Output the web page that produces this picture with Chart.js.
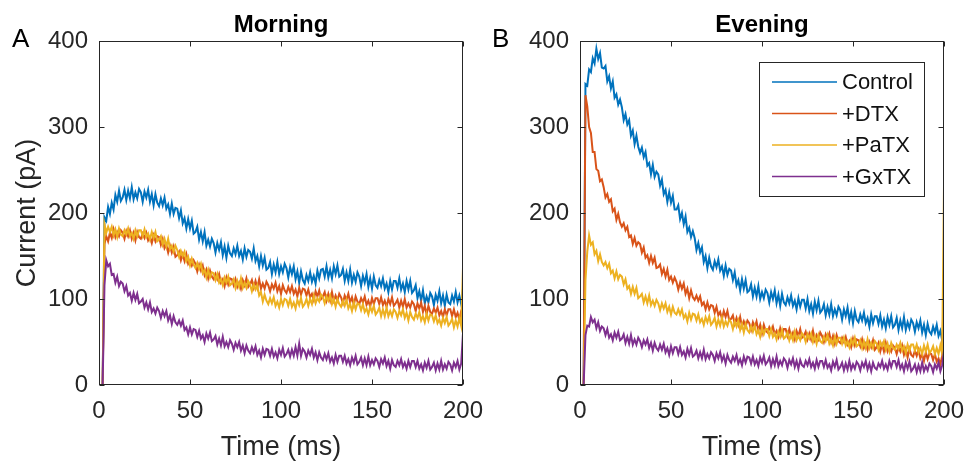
<!DOCTYPE html>
<html>
<head>
<meta charset="utf-8">
<script src="https://cdn.jsdelivr.net/npm/chart.js@4.4.0/dist/chart.umd.min.js"></script>
<style>
  body { margin: 0; background: #fff; }
  #wrap { position: relative; width: 967px; height: 461px; }
  .panel { position: absolute; top: 0; }
  #panelA { left: 0; }
  #panelB { left: 480px; }
</style>
</head>
<body>
<div id="wrap">
  <div class="panel" id="panelA"><canvas id="chartA" width="492" height="461"></canvas></div>
  <div class="panel" id="panelB"><canvas id="chartB" width="487" height="461"></canvas></div>
</div>
<script>
// sample times (ms), shared by every trace
const timeMs = [0, 2,
  3, 4, 5, 6, 7, 8, 9, 10, 11, 12,
  13, 14, 15, 16, 17, 18, 19, 20, 21, 22,
  23, 24, 25, 26, 27, 28, 29, 30, 31, 32,
  33, 34, 35, 36, 37, 38, 39, 40, 41, 42,
  43, 44, 45, 46, 47, 48, 49, 50, 51, 52,
  53, 54, 55, 56, 57, 58, 59, 60, 61, 62,
  63, 64, 65, 66, 67, 68, 69, 70, 71, 72,
  73, 74, 75, 76, 77, 78, 79, 80, 81, 82,
  83, 84, 85, 86, 87, 88, 89, 90, 91, 92,
  93, 94, 95, 96, 97, 98, 99, 100, 101, 102,
  103, 104, 105, 106, 107, 108, 109, 110, 111, 112,
  113, 114, 115, 116, 117, 118, 119, 120, 121, 122,
  123, 124, 125, 126, 127, 128, 129, 130, 131, 132,
  133, 134, 135, 136, 137, 138, 139, 140, 141, 142,
  143, 144, 145, 146, 147, 148, 149, 150, 151, 152,
  153, 154, 155, 156, 157, 158, 159, 160, 161, 162,
  163, 164, 165, 166, 167, 168, 169, 170, 171, 172,
  173, 174, 175, 176, 177, 178, 179, 180, 181, 182,
  183, 184, 185, 186, 187, 188, 189, 190, 191, 192,
  193, 194, 195, 196, 197, 198, 199,
  200, 200];

const seriesNames = ['Control', '+DTX', '+PaTX', '+GxTX'];
const seriesColors = ['#0072BD', '#D95319', '#EDB120', '#7E2F8E'];
const xTicks = [0, 50, 100, 150, 200];
const yTicks = [0, 100, 200, 300, 400];

// Morning (A), current in pA
const morningControl = [0, 0,
  195, 191, 207, 199, 212, 204, 221, 213, 226, 214,
  218, 227, 215, 226, 217, 230, 216, 224, 217, 228,
  224, 213, 225, 218, 227, 213, 222, 209, 222, 212,
  208, 217, 209, 218, 205, 210, 199, 211, 199, 206,
  205, 194, 203, 188, 194, 182, 193, 182, 191, 176,
  178, 184, 169, 178, 167, 178, 162, 169, 161, 170,
  165, 154, 165, 157, 166, 151, 161, 148, 162, 153,
  150, 159, 152, 162, 150, 156, 146, 159, 149, 157,
  155, 147, 159, 144, 150, 138, 150, 139, 148, 134,
  136, 143, 129, 140, 131, 143, 129, 138, 131, 141,
  136, 125, 137, 129, 138, 123, 132, 119, 132, 122,
  118, 128, 121, 131, 120, 127, 118, 133, 124, 134,
  135, 126, 138, 125, 134, 124, 138, 129, 139, 126,
  128, 135, 121, 131, 121, 134, 119, 128, 120, 131,
  126, 115, 127, 119, 129, 114, 124, 112, 126, 116,
  113, 122, 115, 124, 112, 118, 108, 121, 111, 121,
  121, 113, 124, 111, 118, 108, 121, 111, 121, 107,
  110, 116, 101, 109, 98, 110, 95, 103, 96, 107,
  103, 93, 105, 98, 109, 95, 104, 92, 105, 96,
  94, 104, 97, 108, 96, 104, 94,
  112, 112];
const morningDTX = [0, 0,
  164, 173, 167, 177, 171, 181, 172, 178, 173, 180,
  177, 170, 179, 173, 180, 170, 177, 168, 178, 172,
  170, 176, 171, 177, 168, 172, 165, 174, 167, 173,
  172, 163, 170, 159, 163, 154, 162, 154, 161, 149,
  151, 155, 145, 152, 144, 152, 141, 145, 139, 145,
  141, 132, 140, 133, 139, 128, 134, 124, 133, 126,
  123, 129, 123, 129, 119, 123, 115, 125, 117, 124,
  123, 116, 123, 114, 119, 112, 122, 116, 124, 114,
  117, 122, 113, 121, 113, 123, 112, 118, 112, 120,
  116, 109, 117, 112, 119, 109, 115, 106, 116, 110,
  107, 114, 108, 115, 106, 111, 103, 113, 105, 112,
  111, 104, 111, 102, 106, 99, 109, 103, 110, 100,
  103, 108, 98, 106, 98, 108, 98, 104, 98, 106,
  102, 95, 104, 99, 106, 96, 102, 93, 103, 97,
  94, 101, 96, 103, 93, 98, 91, 101, 94, 101,
  101, 94, 102, 93, 98, 91, 100, 94, 102, 92,
  95, 99, 90, 98, 91, 100, 90, 95, 90, 97,
  94, 86, 95, 89, 96, 85, 92, 82, 92, 85,
  83, 89, 84, 90, 81, 86, 79, 88, 81, 88,
  88, 80, 88, 79, 84, 76, 86,
  92, 92];
const morningPaTX = [0, 0,
  187, 177, 184, 178, 184, 174, 181, 172, 182, 175,
  173, 180, 175, 182, 173, 177, 170, 180, 173, 180,
  180, 173, 181, 172, 176, 169, 178, 171, 178, 167,
  169, 173, 163, 170, 161, 170, 158, 162, 155, 162,
  157, 149, 156, 150, 155, 144, 149, 139, 147, 140,
  136, 142, 135, 141, 130, 134, 125, 134, 125, 131,
  130, 122, 129, 119, 123, 116, 125, 119, 126, 116,
  118, 123, 113, 121, 114, 124, 113, 119, 113, 121,
  117, 109, 117, 111, 116, 104, 108, 97, 105, 98,
  94, 101, 95, 102, 92, 97, 90, 100, 93, 100,
  99, 92, 100, 91, 96, 89, 99, 93, 101, 91,
  94, 100, 92, 100, 94, 104, 95, 101, 97, 105,
  102, 95, 103, 98, 104, 94, 100, 91, 100, 94,
  91, 98, 92, 99, 89, 94, 86, 96, 88, 95,
  94, 87, 94, 85, 89, 82, 91, 85, 92, 82,
  85, 90, 80, 88, 80, 90, 80, 86, 80, 88,
  85, 78, 86, 81, 88, 78, 84, 75, 85, 79,
  76, 83, 78, 85, 75, 80, 73, 83, 75, 82,
  81, 74, 81, 72, 76, 69, 78, 72, 79, 69,
  72, 77, 67, 75, 68, 78, 69,
  137, 137];
const morningGxTX = [0, 0,
  116, 145, 138, 141, 128, 129, 119, 126, 115, 120,
  118, 109, 115, 104, 107, 98, 107, 99, 106, 95,
  97, 100, 90, 96, 88, 96, 85, 89, 83, 90,
  86, 78, 86, 80, 86, 75, 81, 71, 80, 73,
  70, 75, 69, 75, 64, 67, 59, 67, 59, 65,
  64, 56, 63, 54, 58, 50, 60, 54, 61, 51,
  53, 57, 47, 54, 46, 56, 45, 50, 44, 52,
  48, 41, 49, 44, 50, 40, 46, 37, 46, 40,
  37, 44, 38, 45, 35, 40, 32, 42, 35, 42,
  41, 34, 42, 33, 38, 31, 41, 35, 43, 33,
  36, 41, 33, 41, 34, 44, 34, 48, 34, 42,
  39, 32, 40, 35, 42, 32, 38, 29, 38, 32,
  29, 36, 30, 37, 27, 32, 25, 35, 27, 34,
  34, 27, 34, 25, 30, 23, 32, 26, 34, 24,
  27, 32, 23, 31, 23, 33, 23, 29, 24, 31,
  28, 21, 30, 25, 32, 22, 28, 19, 29, 23,
  21, 28, 23, 30, 21, 26, 19, 28, 21, 28,
  28, 21, 28, 19, 24, 17, 26, 20, 28, 18,
  21, 26, 17, 25, 18, 28, 18, 24, 19, 27,
  24, 17, 26, 21, 28, 18, 25,
  60, 60];

// Evening (B), current in pA
const eveningControl = [0, 0,
  350, 348, 367, 364, 380, 374, 391, 379, 386, 369,
  368, 371, 353, 359, 345, 353, 334, 338, 326, 332,
  323, 308, 315, 303, 308, 290, 296, 280, 290, 277,
  270, 276, 265, 271, 255, 258, 245, 256, 242, 248,
  245, 232, 239, 222, 227, 213, 224, 212, 220, 204,
  204, 209, 193, 200, 187, 196, 178, 183, 172, 179,
  171, 157, 165, 154, 160, 143, 150, 136, 148, 138,
  134, 144, 137, 146, 133, 138, 127, 139, 128, 135,
  133, 122, 131, 116, 122, 110, 123, 112, 122, 108,
  110, 117, 103, 113, 103, 115, 100, 108, 101, 111,
  107, 96, 108, 100, 110, 95, 105, 92, 106, 96,
  93, 102, 95, 104, 92, 98, 88, 101, 91, 99,
  99, 89, 100, 86, 94, 83, 97, 87, 98, 84,
  87, 94, 81, 91, 82, 94, 80, 88, 81, 91,
  87, 76, 88, 80, 90, 75, 85, 72, 86, 76,
  73, 82, 75, 84, 72, 78, 68, 82, 72, 80,
  80, 71, 81, 68, 76, 66, 79, 70, 80, 67,
  70, 78, 64, 75, 66, 79, 64, 73, 66, 76,
  72, 62, 73, 66, 75, 61, 70, 58, 71, 62,
  59, 68, 61, 70, 57, 63, 52,
  70, 0];
const eveningDTX = [0, 0,
  337, 324, 300, 293, 271, 271, 251, 249, 237, 239,
  230, 218, 222, 213, 216, 202, 205, 192, 199, 189,
  184, 188, 180, 184, 172, 174, 164, 171, 162, 166,
  164, 154, 160, 148, 151, 142, 150, 142, 148, 136,
  137, 140, 129, 135, 126, 134, 122, 126, 119, 125,
  120, 111, 119, 112, 118, 106, 112, 101, 110, 102,
  99, 104, 98, 103, 93, 96, 88, 96, 88, 93,
  92, 84, 91, 81, 85, 77, 86, 79, 86, 75,
  77, 81, 71, 78, 70, 79, 68, 74, 68, 75,
  72, 64, 73, 67, 74, 63, 70, 60, 70, 63,
  61, 67, 62, 68, 59, 63, 56, 66, 58, 65,
  65, 57, 65, 56, 61, 53, 63, 57, 65, 55,
  57, 62, 53, 60, 53, 63, 52, 58, 53, 61,
  57, 50, 59, 54, 60, 50, 57, 48, 58, 51,
  49, 55, 50, 56, 47, 51, 44, 54, 46, 53,
  52, 45, 53, 43, 48, 41, 50, 44, 52, 41,
  44, 49, 39, 47, 39, 49, 39, 44, 39, 46,
  43, 36, 44, 39, 46, 35, 42, 32, 42, 35,
  33, 40, 34, 41, 31, 36, 28, 38, 30, 37,
  36, 29, 36, 27, 31, 24, 34,
  130, 0];
const eveningPaTX = [0, 0,
  122, 155, 174, 163, 166, 152, 156, 144, 152, 143,
  139, 143, 136, 141, 130, 133, 124, 132, 123, 128,
  126, 117, 123, 112, 115, 106, 114, 106, 113, 101,
  103, 106, 96, 103, 95, 104, 93, 98, 92, 99,
  95, 87, 95, 89, 95, 85, 91, 82, 91, 84,
  82, 88, 82, 88, 78, 82, 74, 84, 76, 83,
  82, 75, 82, 73, 77, 70, 79, 73, 80, 70,
  73, 78, 68, 76, 69, 78, 68, 74, 69, 76,
  73, 65, 74, 68, 75, 64, 71, 61, 71, 64,
  61, 68, 62, 69, 59, 64, 56, 66, 59, 65,
  65, 57, 65, 56, 60, 53, 62, 56, 64, 54,
  56, 61, 52, 59, 52, 62, 52, 57, 52, 60,
  57, 50, 59, 54, 60, 50, 57, 48, 58, 51,
  49, 56, 51, 58, 48, 53, 46, 56, 48, 55,
  55, 48, 55, 46, 51, 44, 53, 47, 55, 45,
  47, 52, 43, 51, 43, 53, 43, 49, 43, 51,
  48, 41, 50, 45, 51, 41, 48, 39, 49, 43,
  41, 47, 42, 49, 40, 45, 37, 47, 40, 47,
  47, 40, 47, 38, 43, 36, 46, 39, 47, 37,
  40, 45, 36, 43, 36, 46, 36,
  232, 0];
const eveningGxTX = [0, 0,
  58, 69, 68, 79, 73, 76, 66, 73, 63, 68,
  66, 58, 65, 55, 59, 52, 61, 55, 62, 52,
  54, 59, 49, 56, 48, 58, 47, 53, 47, 55,
  51, 44, 52, 47, 53, 43, 49, 40, 49, 43,
  40, 47, 41, 48, 38, 43, 35, 45, 37, 44,
  44, 36, 44, 35, 39, 32, 42, 35, 43, 33,
  35, 40, 31, 38, 31, 41, 30, 36, 31, 38,
  35, 28, 37, 31, 38, 28, 34, 25, 35, 29,
  26, 33, 28, 35, 25, 30, 23, 33, 26, 33,
  32, 25, 33, 24, 29, 22, 32, 26, 34, 24,
  27, 32, 22, 30, 23, 33, 22, 28, 23, 31,
  28, 20, 29, 24, 31, 21, 28, 19, 29, 23,
  21, 28, 23, 30, 21, 26, 19, 29, 21, 28,
  28, 21, 29, 20, 24, 17, 27, 21, 29, 18,
  21, 26, 17, 25, 18, 28, 18, 24, 19, 27,
  24, 17, 26, 21, 28, 18, 25, 16, 26, 20,
  18, 25, 21, 28, 19, 24, 18, 28, 21, 28,
  28, 21, 29, 19, 24, 16, 26, 19, 27, 16,
  19, 24, 15, 23, 16, 26, 16, 22, 17, 25,
  22, 15, 24, 19, 26, 16, 23,
  40, 0];

const FONT = '"Liberation Sans", Arial, Helvetica, sans-serif';
const INK = '#262626';

// MATLAB style box, inside ticks, title, panel letter and legend
const matlabAxes = {
  id: 'matlabAxes',
  afterDraw(chart, args, opts) {
    const { ctx, chartArea: a, scales: { x, y } } = chart;
    ctx.save();
    ctx.strokeStyle = INK;
    ctx.lineWidth = 1;
    const L = Math.round(a.left) + 0.5, R = Math.round(a.right) - 0.5;
    const T = Math.round(a.top) + 0.5, B = Math.round(a.bottom) - 0.5;
    ctx.strokeRect(L, T, R - L, B - T);
    ctx.beginPath();
    x.ticks.forEach(t => {
      const px = Math.round(x.getPixelForValue(t.value)) + 0.5;
      ctx.moveTo(px, B); ctx.lineTo(px, B - 5);
      ctx.moveTo(px, T); ctx.lineTo(px, T + 5);
    });
    y.ticks.forEach(t => {
      const py = Math.round(y.getPixelForValue(t.value)) + 0.5;
      ctx.moveTo(L, py); ctx.lineTo(L + 5, py);
      ctx.moveTo(R, py); ctx.lineTo(R - 5, py);
    });
    ctx.stroke();

    ctx.fillStyle = '#000';
    ctx.textBaseline = 'middle';
    ctx.textAlign = 'center';
    ctx.font = 'bold 24px ' + FONT;
    ctx.fillText(opts.title, (a.left + a.right) / 2, 25);
    ctx.textAlign = 'left';
    ctx.font = '26px ' + FONT;
    ctx.fillText(opts.letter, opts.letterX, 40);

    if (opts.legend) {
      const x0 = a.right - 185, y0 = 62;
      ctx.strokeStyle = INK;
      ctx.lineWidth = 1;
      ctx.fillStyle = '#fff';
      ctx.fillRect(x0, y0, 165, 134);
      ctx.strokeRect(x0 + 0.5, y0 + 0.5, 165, 134);
      ctx.font = '22px ' + FONT;
      chart.data.datasets.forEach((ds, i) => {
        const yy = y0 + 20 + i * 31.5;
        ctx.strokeStyle = ds.borderColor;
        ctx.lineWidth = 1.5;
        ctx.beginPath();
        ctx.moveTo(x0 + 13, yy); ctx.lineTo(x0 + 78, yy);
        ctx.stroke();
        ctx.fillStyle = '#111';
        ctx.fillText(ds.label, x0 + 83, yy + 1);
      });
    }
    ctx.restore();
  }
};

function makeChart(id, traces, opts) {
  const datasets = traces.map((vals, i) => ({
    label: seriesNames[i],
    data: timeMs.map((t, k) => ({ x: t, y: vals[k] })),
    borderColor: seriesColors[i],
    borderWidth: 2,
    pointRadius: 0,
    tension: 0,
    order: traces.length - i
  }));
  return new Chart(document.getElementById(id), {
    type: 'line',
    data: { datasets },
    plugins: [matlabAxes],
    options: {
      responsive: false,
      animation: false,
      layout: { padding: { top: 41, right: opts.padRight, left: 0, bottom: 0 } },
      plugins: {
        legend: { display: false },
        tooltip: { enabled: false },
        matlabAxes: opts
      },
      scales: {
        x: {
          type: 'linear', min: 0, max: 200,
          afterBuildTicks: s => { s.ticks = xTicks.map(v => ({ value: v })); },
          afterFit: s => { s.height = 76; s.paddingLeft = 0; s.paddingRight = 0; },
          grid: { display: false, drawTicks: false },
          border: { display: false },
          ticks: { color: INK, padding: 12, maxRotation: 0, font: { family: FONT, size: 24 } },
          title: { display: true, text: 'Time (ms)', color: INK, padding: { top: 0, bottom: 0 },
            font: { family: FONT, size: 27, lineHeight: 1 } }
        },
        y: {
          type: 'linear', min: 0, max: 400,
          afterBuildTicks: s => { s.ticks = yTicks.map(v => ({ value: v })); },
          afterFit: s => { s.width = opts.yWidth; },
          grid: { display: false, drawTicks: false },
          border: { display: false },
          ticks: { color: INK, padding: 11, font: { family: FONT, size: 24 } },
          title: { display: opts.yTitle, text: 'Current (pA)', color: INK, padding: { top: 14, bottom: 0 },
            font: { family: FONT, size: 27, lineHeight: 1 } }
        }
      }
    }
  });
}

makeChart('chartA', [morningControl, morningDTX, morningPaTX, morningGxTX],
  { title: 'Morning', letter: 'A', letterX: 12, legend: false, padRight: 29, yWidth: 99, yTitle: true });
makeChart('chartB', [eveningControl, eveningDTX, eveningPaTX, eveningGxTX],
  { title: 'Evening', letter: 'B', letterX: 12, legend: true, padRight: 23, yWidth: 100, yTitle: false });
</script>
</body>
</html>
